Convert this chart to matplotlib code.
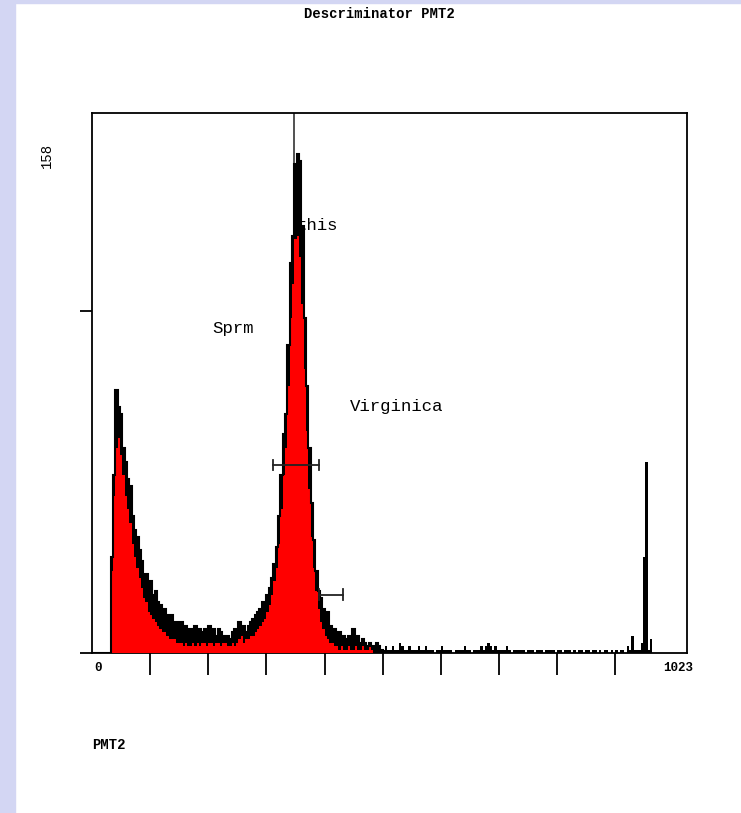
import numpy as np
import matplotlib
matplotlib.use("Agg")
import matplotlib.pyplot as plt
from matplotlib.patches import Rectangle

# channel histogram, 4 channels per bin (0..1023)
bin_width = 4
raw_counts = [
    0, 0, 0, 0, 0, 0, 0, 0, 28, 52, 77, 72, 70, 60, 56, 51,
    49, 40, 36, 34, 30, 27, 22, 23, 19, 21, 17, 18, 15, 14, 13, 13,
    11, 10, 11, 9, 9, 8, 9, 7, 8, 7, 7, 6, 8, 6, 7, 6,
    7, 6, 8, 6, 7, 5, 7, 6, 5, 4, 5, 4, 6, 7, 5, 9,
    7, 8, 6, 8, 9, 10, 11, 12, 13, 15, 14, 17, 19, 22, 26, 31,
    40, 52, 64, 70, 90, 114, 122, 143, 146, 144, 125, 98, 78, 60, 44, 33,
    24, 18, 16, 13, 11, 12, 8, 6, 7, 5, 6, 4, 5, 4, 5, 3,
    7, 4, 5, 3, 4, 3, 2, 3, 2, 2, 3, 2, 1,
    1, 2, 1, 1, 2, 1, 1, 3, 2, 1, 1, 2, 1, 1, 1, 2,
    1, 1, 2, 1, 1, 1, 0, 1, 1, 2, 1, 1, 1, 1, 0, 1,
    1, 1, 1, 2, 1, 1, 0, 1, 1, 1, 2, 1, 2, 3, 2, 1,
    2, 1, 1, 1, 1, 2, 1, 0, 1, 1, 1, 1, 1, 0, 1, 1,
    1, 0, 1, 1, 1, 0, 1, 1, 1, 1, 0, 1, 1, 0, 1, 1,
    1, 0, 1, 0, 1, 1, 0, 1, 1, 0, 1, 1, 0, 1, 0, 1,
    1, 0, 1, 0, 1, 0, 1, 1, 0, 2, 1, 5, 1, 1, 1, 3,
    28, 56, 1, 4, 0, 0, 0, 0, 0, 0, 0, 0, 0, 0, 0, 0,
    0, 0, 0,
]

# red (gated / smoothed) part, first 125 bins
red_counts = [
    0, 0, 0, 0, 0, 0, 0, 0, 24, 46, 60, 63, 58, 52, 46, 42,
    38, 32, 28, 25, 22, 19, 16, 15, 12, 11, 10, 9, 8, 7, 6, 6,
    5, 4, 4, 4, 3, 3, 3, 2, 3, 2, 2, 3, 2, 3, 2, 3,
    3, 2, 3, 3, 2, 3, 3, 2, 3, 3, 2, 2, 3, 2, 3, 4,
    5, 3, 4, 4, 5, 5, 6, 7, 8, 9, 10, 12, 14, 17, 21, 25,
    32, 42, 52, 60, 78, 98, 108, 121, 122, 116, 102, 83, 65, 48, 34, 25,
    18, 13, 9, 7, 5, 4, 3, 3, 2, 2, 1, 2, 1, 1, 2, 1,
    1, 2, 1, 1, 2, 1, 1, 2, 1, 0, 0, 0, 0,
]

cursor_channel = 347
region_bars = [(312, 390, 55), (390, 432, 17)]  # (start, end, height)
labels = [("Sprm", 207, 95), ("this", 352, 125), ("Virginica", 443, 72)]

raw = np.array(raw_counts, dtype=float)
red = np.zeros_like(raw)
red[:len(red_counts)] = red_counts
edges = np.arange(len(raw) + 1) * bin_width
n_red = len(red_counts)

mono = "Liberation Mono"

fig = plt.figure(figsize=(7.41, 8.13), dpi=100)
# page background strip on the left / top
fig.patches.append(Rectangle((0, 0), 15 / 741, 1, transform=fig.transFigure,
                             color="#d3d6f3", zorder=0))
fig.patches.append(Rectangle((0, 1 - 3 / 813), 1, 3 / 813, transform=fig.transFigure,
                             color="#d3d6f3", zorder=0))

ax = fig.add_axes([92 / 741, 160 / 813, 594.7 / 741, 540 / 813])
ax.set_xlim(0, 1023)
ax.set_ylim(0, 158)

ax.axvline(cursor_channel, color="#333333", lw=1.2, zorder=1)
ax.stairs(raw, edges, fill=True, color="black", zorder=2)
ax.stairs(red, edges, fill=True, color="#ff0000", zorder=3)
# black outline of the raw histogram over the red part only
ax.stairs(raw[:n_red], edges[:n_red + 1], color="black", lw=1.5, zorder=3.5)

for x0, x1, h in region_bars:
    ax.plot([x0, x1], [h, h], color="#222222", lw=1.3, zorder=4)
    for xx in (x0, x1):
        ax.plot([xx, xx], [h - 1.6, h + 1.6], color="#222222", lw=1.3, zorder=4)

for txt, cx, cy in labels:
    ax.text(cx, cy, txt, fontsize=12.5, family=mono, va="center", ha="left", zorder=5)

for s in ax.spines.values():
    s.set_linewidth(1.3)
    s.set_color("black")

ax.set_xticks(np.arange(100, 1000, 100))
ax.set_xticklabels([])
ax.set_yticks([0, 100])
ax.set_yticklabels([])
ax.tick_params(axis="x", direction="out", length=16, width=1.3, color="black")
ax.tick_params(axis="y", direction="out", length=8.6, width=1.3, color="black")

ax.text(4, -0.028, "0", transform=ax.get_xaxis_transform(), family=mono,
        fontsize=9, fontweight="bold", ha="left", va="center")
ax.text(1035, -0.028, "1023", transform=ax.get_xaxis_transform(), family=mono,
        fontsize=9, fontweight="bold", ha="right", va="center")

fig.text(379 / 741, 1 - 14 / 813, "Descriminator PMT2", family=mono, fontsize=10,
         fontweight="bold", ha="center", va="center")
fig.text(92 / 741, 1 - 745 / 813, "PMT2", family=mono, fontsize=10,
         fontweight="bold", ha="left", va="center")
fig.text(47 / 741, 1 - 155 / 813, "158", family=mono, fontsize=10,
         rotation=90, ha="center", va="center")

fig.savefig("out.png", dpi=100)
